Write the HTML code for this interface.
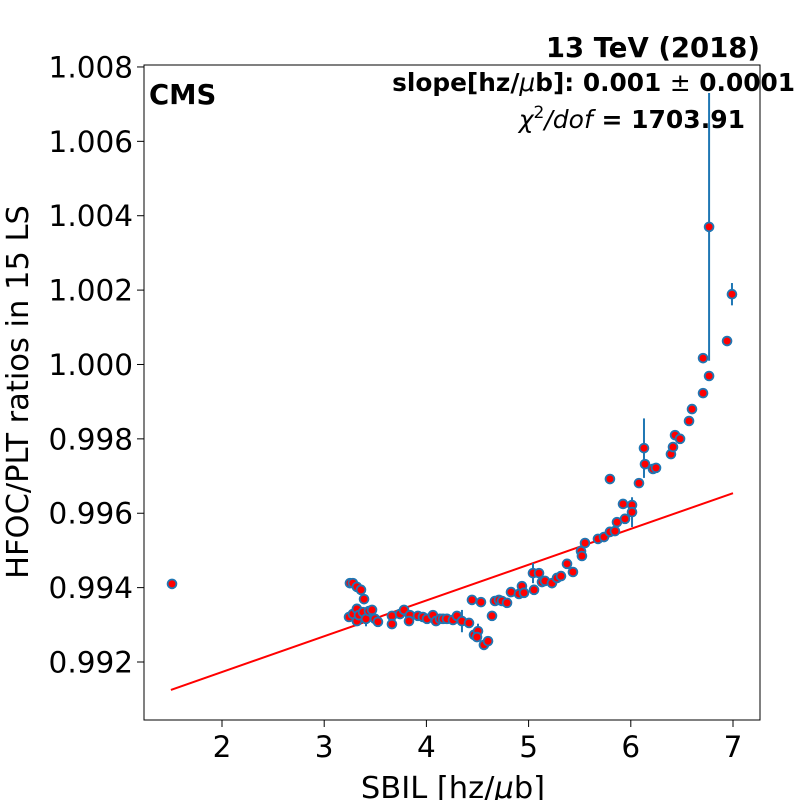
<!DOCTYPE html>
<html><head><meta charset="utf-8"><style>
body{margin:0;background:#fff;width:800px;height:800px;overflow:hidden}
svg text{font-family:"DejaVu Sans","Liberation Sans",sans-serif;fill:#000}
</style></head><body>
<svg id="chart" width="800" height="800" xmlns="http://www.w3.org/2000/svg">
<rect x="144" y="65" width="616" height="655" fill="#fff" stroke="#000" stroke-width="1"/>
<g id="xticks"></g>
<g id="yticks"></g>
<g id="fit"></g>
<g id="errs"></g>
<g id="pts"></g>
<text x="149" y="104" font-size="27.5" font-weight="bold">CMS</text>
<text x="760" y="57" font-size="27.5" font-weight="bold" text-anchor="end">13 TeV (2018)</text>
<text x="795" y="91" font-size="24.8" font-weight="bold" text-anchor="end">slope[hz/<tspan font-style="italic" font-weight="normal">μ</tspan>b]: 0.001 <tspan font-weight="normal">±</tspan> 0.0001</text>
<text x="745" y="128" font-size="25" text-anchor="end"><tspan font-style="italic">χ</tspan><tspan font-size="17" dy="-10">2</tspan><tspan dy="10" font-style="italic">/dof</tspan><tspan font-weight="bold"> = 1703.91</tspan></text>
<text x="453" y="798" font-size="30.5" text-anchor="middle">SBIL [hz/<tspan font-style="italic">μ</tspan>b]</text>
<text transform="translate(28,392) rotate(-90)" font-size="30.5" text-anchor="middle">HFOC/PLT ratios in 15 LS</text>
</svg>
<script>
const xTicks=[2,3,4,5,6,7];
const yTicks=[0.992,0.994,0.996,0.998,1.000,1.002,1.004,1.006,1.008];
const xVals=[1.511,3.252,3.281,3.320,3.360,3.390,3.243,3.281,3.320,3.320,3.340,3.380,3.409,3.438,3.468,3.497,3.526,3.663,3.663,3.742,3.781,3.839,3.830,3.917,3.966,4.006,4.064,4.094,4.133,4.163,4.201,4.260,4.299,4.348,4.417,4.446,4.534,4.466,4.505,4.495,4.563,4.603,4.642,4.671,4.710,4.740,4.789,4.828,4.906,4.935,4.955,5.043,5.102,5.053,5.131,5.160,5.229,5.278,5.317,5.376,5.434,5.513,5.522,5.552,5.679,5.738,5.796,5.845,5.865,5.943,5.924,6.012,6.012,5.796,6.080,6.129,6.139,6.217,6.247,6.393,6.413,6.433,6.482,6.570,6.599,6.707,6.766,6.707,6.766,6.942,6.990];
const yVals=[0.99410,0.99412,0.99412,0.99402,0.99394,0.99369,0.99321,0.99329,0.99343,0.99310,0.99326,0.99334,0.99316,0.99337,0.99340,0.99316,0.99308,0.99324,0.99302,0.99329,0.99340,0.99326,0.99310,0.99324,0.99321,0.99316,0.99326,0.99310,0.99316,0.99316,0.99316,0.99313,0.99324,0.99310,0.99305,0.99367,0.99361,0.99273,0.99283,0.99267,0.99246,0.99256,0.99324,0.99364,0.99367,0.99364,0.99359,0.99388,0.99383,0.99404,0.99386,0.99439,0.99439,0.99394,0.99415,0.99418,0.99412,0.99426,0.99431,0.99464,0.99442,0.99498,0.99485,0.99520,0.99531,0.99536,0.99550,0.99552,0.99576,0.99585,0.99625,0.99622,0.99603,0.99692,0.99681,0.99775,0.99732,0.99719,0.99722,0.99759,0.99778,0.99810,0.99800,0.99848,0.99880,0.99923,0.99969,1.00017,1.00370,1.00063,1.00189];
const errVals=[0,0,0,0,0,0,0,0,0,0,0,0,0.0002,0,0,0,0,0,0,0,0,0,0,0,0,0,0,0,0,0,0,0,0,0.0003,0,0,0,0,0.0002,0,0,0,0,0,0,0,0,0,0,0,0,0.00027,0,0,0,0,0,0,0,0,0,0,0,0,0,0,0,0,0,0,0,0,0.0004,0,0,0.0008,0,0,0,0,0,0,0,0,0,0,0,0,0.0036,0,0.0003];
const fitX=[1.5,7.0];
const fitY=[0.99125,0.99654];
const NS='http://www.w3.org/2000/svg';
const X=v=>17.6+102.2*v;
const Y=v=>662-(v-0.992)*37190;
function mk(t,a,p){const e=document.createElementNS(NS,t);for(const k in a)e.setAttribute(k,a[k]);p.appendChild(e);return e;}
const gx=document.getElementById('xticks'),gy=document.getElementById('yticks');
xTicks.forEach(v=>{
 const l=mk('line',{x1:X(v),x2:X(v),y1:720,y2:727,stroke:'#000'},gx);
 
 
 const t=mk('text',{x:X(v),y:757,'font-size':29.5,'text-anchor':'middle'},gx);
 t.textContent=v;
 
 
});
yTicks.forEach(v=>{
 const l=mk('line',{x1:137,x2:144,y1:Y(v),y2:Y(v),stroke:'#000'},gy);
 
 
 const t=mk('text',{x:133,y:Y(v)+10.5,'font-size':29.5,'text-anchor':'end'},gy);
 t.textContent=v.toFixed(3);
 
 
});
const fl=mk('line',{x1:X(fitX[0]),y1:Y(fitY[0]),x2:X(fitX[1]),y2:Y(fitY[1]),stroke:'#ff0000','stroke-width':2},document.getElementById('fit'));


const ge=document.getElementById('errs'),gp=document.getElementById('pts');
xVals.forEach((x,i)=>{
 if(errVals[i]>0){
  const e=mk('line',{x1:X(x),x2:X(x),y1:Y(yVals[i]-errVals[i]),y2:Y(yVals[i]+errVals[i]),stroke:'#1f77b4','stroke-width':2},ge);
  
  
 }
 const c=mk('circle',{cx:X(x),cy:Y(yVals[i]),r:4.4,fill:'#ff0000',stroke:'#1f77b4','stroke-width':1.8},gp);
 
 
});
</script>
</body></html>
